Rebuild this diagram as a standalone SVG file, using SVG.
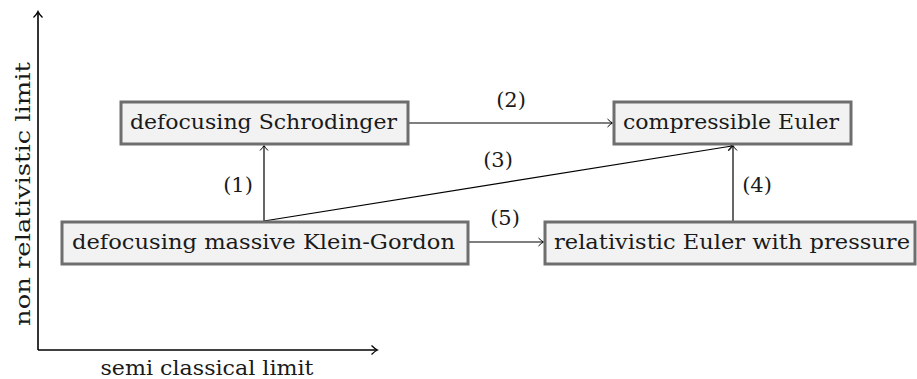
<svg xmlns="http://www.w3.org/2000/svg" width="917" height="379" viewBox="0 0 917 379">
<style>
text{font-family:'DejaVu Serif',serif;font-size:21px;fill:#1a1a1a}
.box{fill:#f2f2f2;stroke:#6e6e6e;stroke-width:3}
.lbl{text-anchor:middle}
.k{stroke:#000;stroke-width:1.2;fill:none}
.g{stroke:#555;stroke-width:1.4;fill:none}
.ax{stroke:#000;stroke-width:1.6;fill:none}
</style>
<defs>
<marker id="ah" viewBox="-6 -5 8 10" refX="0" refY="0" markerWidth="8" markerHeight="10" markerUnits="userSpaceOnUse" orient="auto">
<path d="M-4.5,-4 Q-1.5,-1 0.5,0 Q-1.5,1 -4.5,4" fill="none" stroke="#000" stroke-width="1"/>
</marker>
<marker id="ahax" viewBox="-7 -6 9 12" refX="0" refY="0" markerWidth="9" markerHeight="12" markerUnits="userSpaceOnUse" orient="auto">
<path d="M-5.5,-4.5 Q-2,-1 0.5,0 Q-2,1 -5.5,4.5" fill="none" stroke="#000" stroke-width="1.3"/>
</marker>
</defs>
<g id="axes">
<path class="ax" d="M38,350 V12" marker-end="url(#ahax)"/>
<path class="ax" d="M38,350 H377" marker-end="url(#ahax)"/>
<text class="lbl" x="207" y="375" textLength="213" lengthAdjust="spacingAndGlyphs">semi classical limit</text>
<text class="lbl" transform="translate(30,194) rotate(-90)" textLength="264" lengthAdjust="spacingAndGlyphs">non relativistic limit</text>
</g>
<g id="connectors">
<path class="k" d="M264,221 V146" marker-end="url(#ah)"/>
<path class="g" d="M408,123 H612" marker-end="url(#ah)"/>
<path class="k" d="M264,221 L732,146" marker-end="url(#ah)"/>
<path class="k" d="M733,221 V146" marker-end="url(#ah)"/>
<path class="g" d="M468,242 H543" marker-end="url(#ah)"/>
<text class="lbl" x="238" y="192">(1)</text>
<text class="lbl" x="511" y="107">(2)</text>
<text class="lbl" x="498" y="167">(3)</text>
<text class="lbl" x="757" y="192">(4)</text>
<text class="lbl" x="505" y="225">(5)</text>
</g>
<g id="n1">
<rect class="box" x="121" y="102" width="287" height="42"/>
<text class="lbl" x="263.5" y="129" textLength="267" lengthAdjust="spacingAndGlyphs">defocusing Schrodinger</text>
</g>
<g id="n2">
<rect class="box" x="614" y="102" width="237" height="42"/>
<text class="lbl" x="731" y="129" textLength="216" lengthAdjust="spacingAndGlyphs">compressible Euler</text>
</g>
<g id="n3">
<rect class="box" x="62" y="222" width="406" height="42"/>
<text class="lbl" x="263.5" y="249" textLength="383" lengthAdjust="spacingAndGlyphs">defocusing massive Klein-Gordon</text>
</g>
<g id="n4">
<rect class="box" x="545" y="222" width="370" height="42"/>
<text class="lbl" x="732" y="249" textLength="356" lengthAdjust="spacingAndGlyphs">relativistic Euler with pressure</text>
</g>
</svg>
